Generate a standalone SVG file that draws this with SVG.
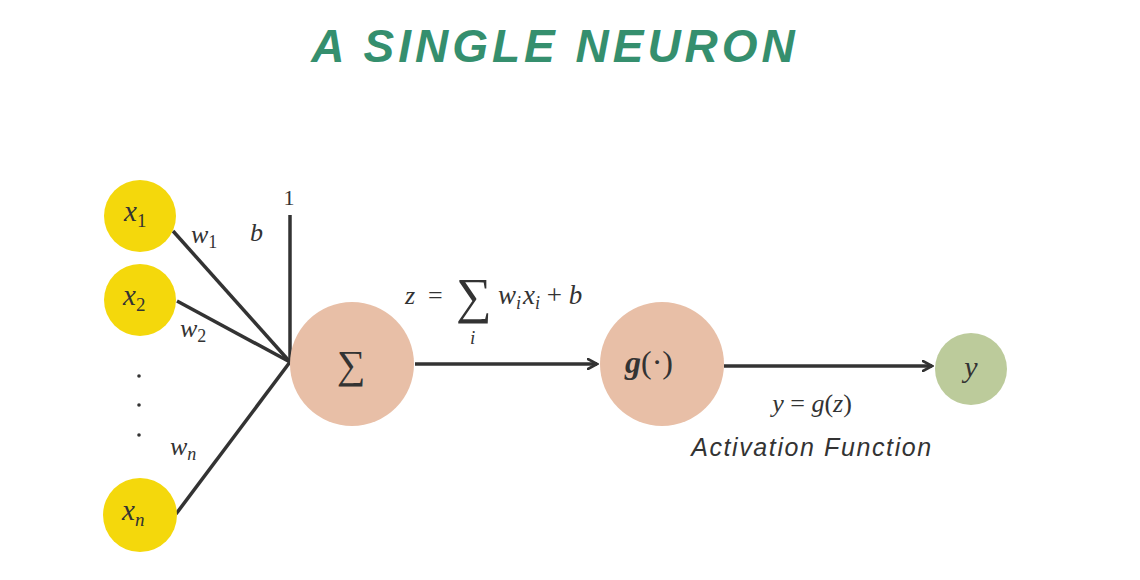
<svg xmlns="http://www.w3.org/2000/svg" width="1140" height="580" viewBox="0 0 1140 580">
<defs>
<style>
.in{fill:#f4d80c}
.op{fill:#e8bfa7}
.out{fill:#bccb9b}
.ln{stroke:#333;stroke-width:3.5;fill:none}
.m{font-family:"Liberation Serif",serif;font-style:italic;fill:#333}
.r{font-family:"Liberation Serif",serif;fill:#333}
.hand{font-family:"Liberation Sans",sans-serif;font-style:italic;fill:#333}
</style>
<marker id="ah" viewBox="0 0 12 12" refX="10" refY="6" markerWidth="12" markerHeight="12" markerUnits="userSpaceOnUse" orient="auto">
<path d="M1,1 L10,6 L1,11" fill="none" stroke="#333" stroke-width="2.6" stroke-linecap="round"/>
</marker>
</defs>
<rect width="1140" height="580" fill="#fff"/>
<text x="555" y="62" text-anchor="middle" font-family="Liberation Sans, sans-serif" font-weight="bold" font-style="italic" font-size="46" letter-spacing="4" fill="#358f6e">A SINGLE NEURON</text>

<g id="connectors">
<line class="ln" x1="173" y1="231" x2="290" y2="362"/>
<line class="ln" x1="177" y1="301" x2="290" y2="362"/>
<line class="ln" x1="176" y1="514" x2="290" y2="362"/>
<line class="ln" x1="290" y1="215" x2="290" y2="362"/>
<line class="ln" x1="415" y1="364" x2="597" y2="364" marker-end="url(#ah)"/>
<line class="ln" x1="724" y1="366" x2="932" y2="366" marker-end="url(#ah)"/>
<text class="m" x="191" y="243" font-size="26">w<tspan font-size="18" font-style="normal" dy="5">1</tspan></text>
<text class="m" x="250" y="241" font-size="26">b</text>
<text class="r" x="289" y="205" font-size="22" text-anchor="middle">1</text>
<text class="m" x="180" y="337" font-size="26">w<tspan font-size="18" font-style="normal" dy="5">2</tspan></text>
<text class="m" x="170" y="455" font-size="26">w<tspan font-size="18" dy="5">n</tspan></text>
<text class="m" x="405" y="304" font-size="26">z</text>
<text class="r" x="428" y="304" font-size="26">=</text>
<text class="r" x="456" y="313" font-size="50">∑</text>
<text class="m" x="470" y="344" font-size="19">i</text>
<text class="m" x="498" y="304" font-size="27">w<tspan font-size="18" dy="5">i</tspan><tspan dy="-5" dx="2">x</tspan><tspan font-size="18" dy="5">i</tspan><tspan dy="-5" font-style="normal"> + </tspan>b</text>
<text class="m" x="812" y="412" font-size="26" text-anchor="middle">y <tspan font-style="normal">=</tspan> g<tspan font-style="normal">(</tspan>z<tspan font-style="normal">)</tspan></text>
<text class="hand" x="812" y="456" font-size="25" text-anchor="middle" letter-spacing="1.6">Activation Function</text>
</g>

<g id="dots" fill="#333">
<circle cx="139" cy="376" r="1.8"/>
<circle cx="139" cy="405" r="1.8"/>
<circle cx="139" cy="435" r="1.8"/>
</g>

<g id="x1"><circle class="in" cx="140" cy="216" r="36"/><text class="m" x="124" y="221" font-size="29">x<tspan font-size="19" font-style="normal" dy="6">1</tspan></text></g>
<g id="x2"><circle class="in" cx="140" cy="300" r="36"/><text class="m" x="123" y="305" font-size="29">x<tspan font-size="19" font-style="normal" dy="6">2</tspan></text></g>
<g id="xn"><circle class="in" cx="140" cy="515" r="37"/><text class="m" x="122" y="520" font-size="29">x<tspan font-size="19" dy="6">n</tspan></text></g>
<g id="sum"><circle class="op" cx="352" cy="364" r="62"/><text class="r" x="351" y="378" font-size="40" text-anchor="middle">∑</text></g>
<g id="g"><circle class="op" cx="662" cy="364" r="62"/><text class="m" x="625" y="373" font-size="32" font-weight="bold">g<tspan font-weight="normal" font-style="normal">(·)</tspan></text></g>
<g id="y"><circle class="out" cx="971" cy="369" r="36"/><text class="m" x="971" y="377" font-size="30" text-anchor="middle">y</text></g>
</svg>
